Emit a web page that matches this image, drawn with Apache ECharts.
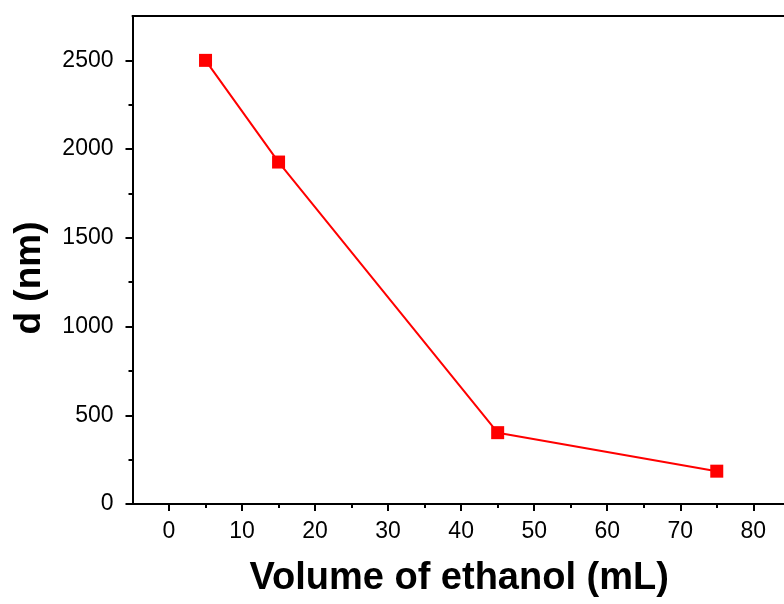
<!DOCTYPE html>
<html>
<head>
<meta charset="utf-8">
<script src="https://cdn.jsdelivr.net/npm/echarts@6/dist/echarts.min.js"></script>
<style>
html,body{margin:0;padding:0;background:#fff;overflow:hidden;width:784px;height:604px;}
#chart{width:790px;height:604px;}
</style>
</head>
<body>
<div id="chart"></div>
<script>
// Data
const ethanolVolume = [5, 15, 45, 75];
const diameter = [2500, 1927, 402, 185];
// Tick values
const xMajorTicks = [0, 10, 20, 30, 40, 50, 60, 70, 80];
const xMinorTicks = [5, 15, 25, 35, 45, 55, 65, 75, 85];
const yMajorTicks = [0, 500, 1000, 1500, 2000, 2500];
const yMinorTicks = [250, 750, 1250, 1750, 2250];
const xTitle = 'Volume of ethanol (mL)';
const yTitle = 'd (nm)';

const font = 'Liberation Sans, Arial, sans-serif';
const chart = echarts.init(document.getElementById('chart'), null, {renderer: 'canvas'});
const lineStyle = {color: '#000', width: 2};
const plain = v => String(v);

chart.setOption({
  animation: false,
  backgroundColor: '#fff',
  grid: {left: 132.5, right: 0.2, top: 16, bottom: 100, containLabel: false},
  xAxis: [
    {
      type: 'value', min: -5, max: 85, position: 'bottom',
      axisLine: {show: true, onZero: false, lineStyle: lineStyle},
      axisTick: {show: true, inside: false, length: 7, lineStyle: lineStyle, customValues: xMajorTicks},
      axisLabel: {show: true, margin: 16, fontSize: 23, color: '#000', fontFamily: font, customValues: xMajorTicks, formatter: plain},
      splitLine: {show: false},
      name: xTitle, nameLocation: 'middle', nameGap: 56,
      nameTextStyle: {fontSize: 38, fontWeight: 'bold', color: '#000', fontFamily: font, padding: [0, 4, 0, 0]}
    },
    {
      type: 'value', min: -5, max: 85, position: 'bottom',
      axisLine: {show: false, onZero: false},
      axisTick: {show: true, inside: false, length: 4, lineStyle: lineStyle, customValues: xMinorTicks},
      axisLabel: {show: false},
      splitLine: {show: false}
    },
    {
      type: 'value', min: -5, max: 85, position: 'top',
      axisLine: {show: true, onZero: false, lineStyle: lineStyle},
      axisTick: {show: false}, axisLabel: {show: false}, splitLine: {show: false}
    }
  ],
  yAxis: [
    {
      type: 'value', min: 0, max: 2750, position: 'left',
      axisLine: {show: true, onZero: false, lineStyle: lineStyle},
      axisTick: {show: true, inside: false, length: 7, lineStyle: lineStyle, customValues: yMajorTicks},
      axisLabel: {show: true, margin: 19, fontSize: 23, color: '#000', fontFamily: font, customValues: yMajorTicks, formatter: plain},
      splitLine: {show: false},
      name: yTitle, nameLocation: 'middle', nameGap: 84, nameRotate: 90,
      nameTextStyle: {fontSize: 37, fontWeight: 'bold', color: '#000', fontFamily: font, padding: [0, 36, 0, 0]}
    },
    {
      type: 'value', min: 0, max: 2750, position: 'left',
      axisLine: {show: false, onZero: false},
      axisTick: {show: true, inside: false, length: 4, lineStyle: lineStyle, customValues: yMinorTicks},
      axisLabel: {show: false},
      splitLine: {show: false}
    }
  ],
  series: [{
    type: 'line',
    xAxisIndex: 0, yAxisIndex: 0,
    data: ethanolVolume.map((v, i) => [v, diameter[i]]),
    symbol: 'rect', symbolSize: 13,
    itemStyle: {color: '#ff0000'},
    lineStyle: {color: '#ff0000', width: 2},
    clip: false
  }]
});
</script>
</body>
</html>
